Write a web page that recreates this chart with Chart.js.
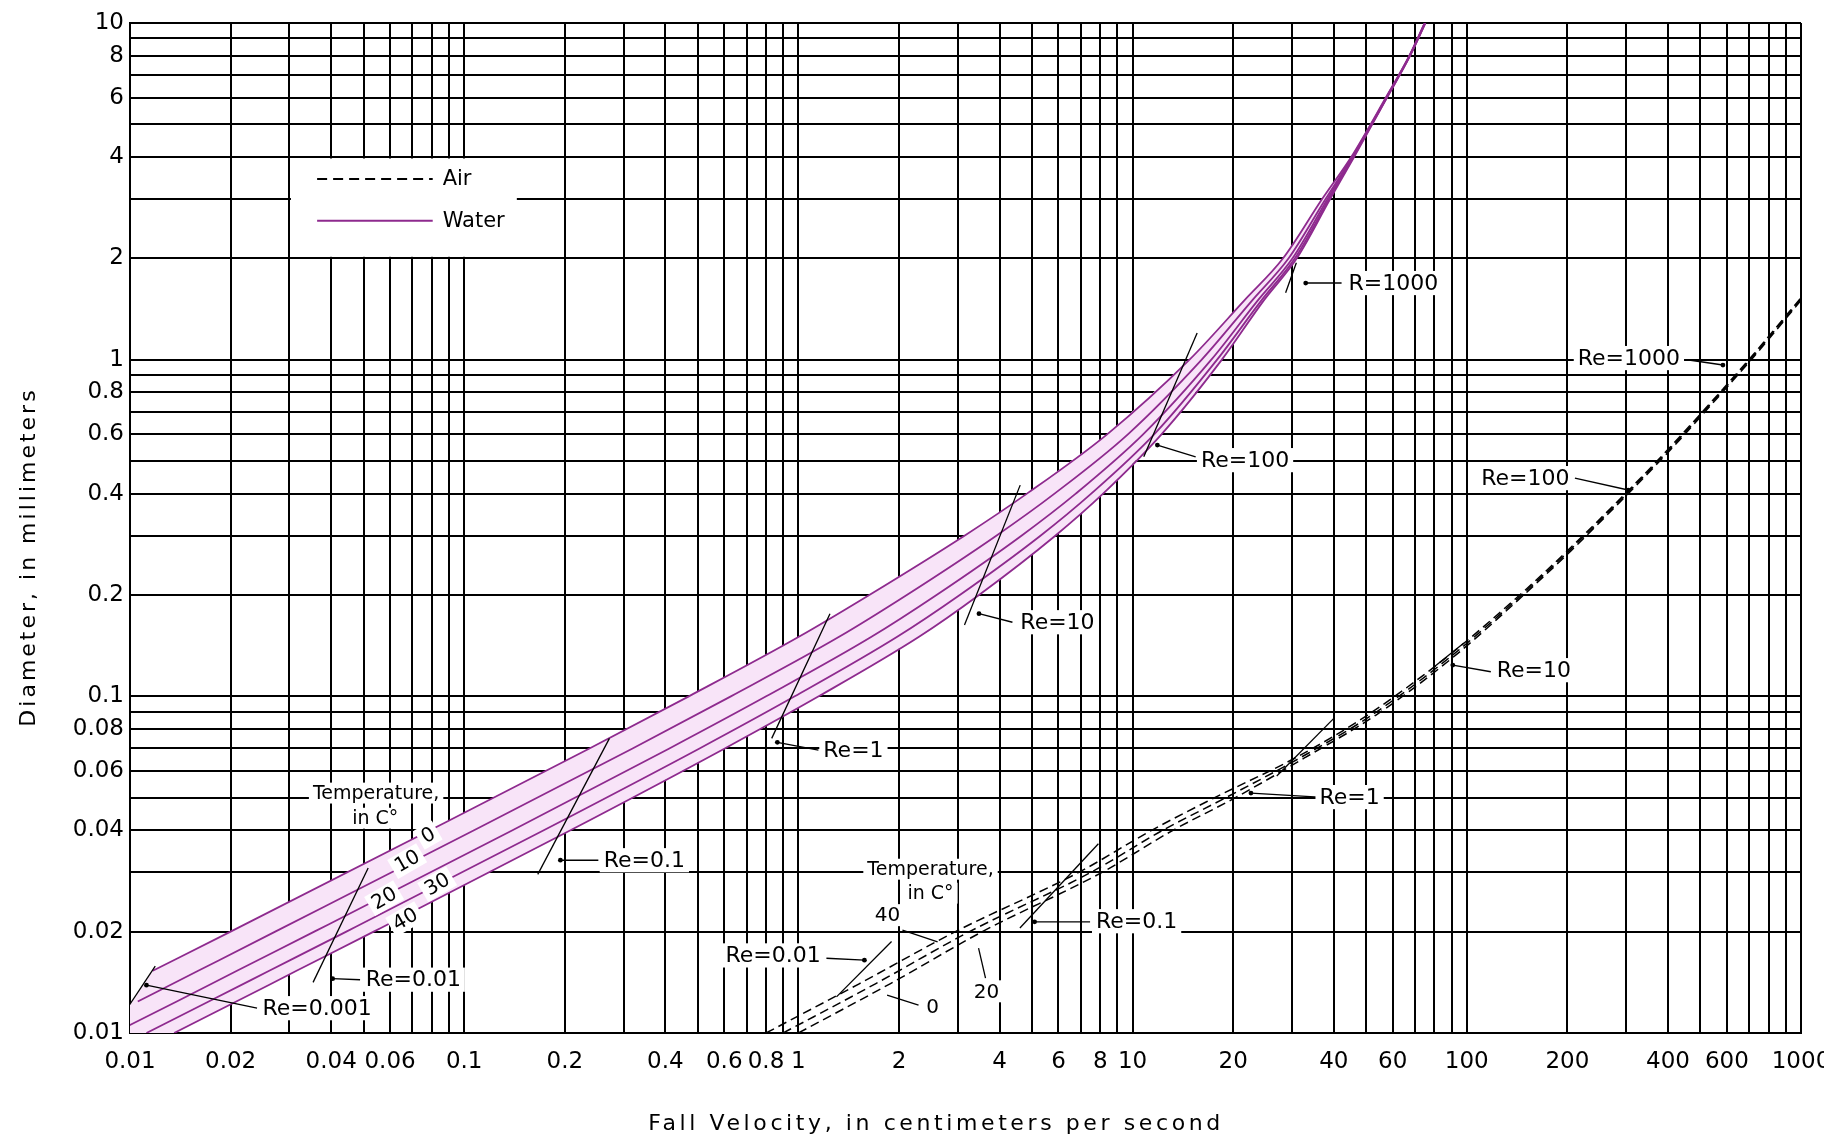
<!DOCTYPE html>
<html><head><meta charset="utf-8">
<script src="https://cdn.jsdelivr.net/npm/chart.js@4.4.1/dist/chart.umd.min.js"></script>
<style>html,body{margin:0;padding:0;background:#fff;}canvas{display:block;}</style>
</head><body>
<canvas id="c" width="1824" height="1141"></canvas>
<script>
// ---------- axes: gridlines (1..9 per decade) and labelled ticks ----------
const xGrid = [];
[0.01, 0.1, 1, 10, 100].forEach(d => { for (let m = 1; m < 10; m++) xGrid.push(+(d * m).toPrecision(2)); });
xGrid.push(1000);
const yGrid = [];
[0.01, 0.1, 1].forEach(d => { for (let m = 1; m < 10; m++) yGrid.push(+(d * m).toPrecision(2)); });
yGrid.push(10);

const xTickVals = [0.01, 0.02, 0.04, 0.06, 0.1, 0.2, 0.4, 0.6, 0.8, 1, 2, 4, 6, 8, 10, 20, 40, 60, 100, 200, 400, 600, 1000];
const xTickText = ['0.01','0.02','0.04','0.06','0.1','0.2','0.4','0.6','0.8','1','2','4','6','8','10','20','40','60','100','200','400','600','1000'];
const yTickVals = [0.01, 0.02, 0.04, 0.06, 0.08, 0.1, 0.2, 0.4, 0.6, 0.8, 1, 2, 4, 6, 8, 10];
const yTickText = ['0.01','0.02','0.04','0.06','0.08','0.1','0.2','0.4','0.6','0.8','1','2','4','6','8','10'];

const xTitle = 'Fall Velocity, in centimeters per second';
const yTitle = 'Diameter, in millimeters';

// ---------- WATER: fall velocity (cm/s) at each diameter (mm), per temperature ----------
const waterDiam = [0.01, 0.0124, 0.0153, 0.02, 0.04, 0.07, 0.1, 0.15, 0.2, 0.3, 0.4, 0.6, 1, 1.5, 2, 3, 4, 6, 8, 10];
const water0C  = [null, null, 0.0117, 0.0200, 0.0790, 0.237, 0.470, 1.00, 1.63, 3.14, 4.83, 8.39, 14.8, 21.6, 28.2, 36.9, 45.1, 57.2, 67.3, 74.8];
const water10C = [null, 0.01055, 0.0160, 0.0272, 0.107, 0.319, 0.628, 1.32, 2.11, 3.91, 5.84, 9.68, 16.1, 22.8, 29.3, 37.8, 45.4, 57.4, 67.4, 74.9];
const water20C = [0.00896, 0.0138, 0.0209, 0.0356, 0.1395, 0.411, 0.801, 1.65, 2.59, 4.65, 6.76, 10.75, 17.2, 23.7, 30.1, 38.3, 45.6, 57.5, 67.5, 75.0];
const water30C = [0.0112, 0.0172, 0.0261, 0.0444, 0.173, 0.506, 0.975, 1.97, 3.04, 5.30, 7.52, 11.6, 17.9, 24.3, 30.6, 38.7, 45.8, 57.6, 67.6, 75.1];
const water40C = [0.01355, 0.0208, 0.0315, 0.0536, 0.208, 0.602, 1.15, 2.29, 3.47, 5.87, 8.16, 12.2, 18.5, 24.7, 31.0, 39.0, 46.0, 57.7, 67.7, 75.2];
const bandCorner = [0.0086, 0.0098];   // closes the tinted band along the Re=0.001 line

// ---------- AIR: fall velocity (cm/s) at each diameter (mm), per temperature ----------
const airDiam = [0.01, 0.014, 0.02, 0.03, 0.04, 0.05, 0.066, 0.088, 0.133, 0.2, 0.27, 0.4, 0.54, 0.82, 1.0, 1.6];
const air40C = [0.80, 1.52, 2.95, 6.9, 11.4, 17.6, 31.0, 50.5, 89, 144, 199.5, 298, 399, 585, 698, 1040];
const air20C = [0.90, 1.70, 3.25, 7.5, 12.3, 19.0, 32.0, 52.0, 91, 146, 202, 301, 403, 590, 704, 1048];
const air0C  = [1.00, 1.88, 3.55, 8.1, 13.2, 20.3, 33.0, 53.5, 93, 148, 204.5, 304, 407, 595, 710, 1056];

// ---------- Reynolds-number marker segments (start v,d -> end v,d) ----------
const waterReV1 = [0.0099, 0.0353, 0.166, 0.832, 3.14, 10.8, 28.7];
const waterReD1 = [0.0120, 0.01414, 0.0296, 0.075, 0.163, 0.515, 1.58];
const waterReV2 = [0.0119, 0.0516, 0.272, 1.243, 4.61, 15.6, 30.9];
const waterReD2 = [0.0158, 0.0309, 0.075, 0.176, 0.424, 1.20, 1.94];
const airReV1 = [1.3, 4.6, 27, 79.6];
const airReD1 = [0.0128, 0.0205, 0.058, 0.122];
const airReV2 = [1.9, 7.9, 40, 98];
const airReD2 = [0.0187, 0.0365, 0.086, 0.144];

// ---------- callout texts, positions (v,d) and leader lines (tip v,d -> tail v,d) ----------
const noteText = ['Re=0.001','Re=0.01','Re=0.1','Re=1','Re=10','Re=100','R=1000','Re=0.01','Re=0.1','Re=1','Re=10','Re=100','Re=1000'];
const noteV = [0.0363, 0.0704, 0.346, 1.461, 5.96, 21.7, 60.3, 0.840, 10.28, 44.6, 158.7, 149.7, 305.5];
const noteD = [0.01185, 0.01440, 0.0326, 0.0692, 0.166, 0.503, 1.689, 0.0170, 0.02148, 0.0502, 0.1196, 0.4448, 1.011];
const leadTipV  = [0.0112, 0.0404, 0.194, 0.865, 3.47, 11.86, 32.96, 1.576, 5.09, 22.6, 90.8, 304, 584];
const leadTipD  = [0.01387, 0.0145, 0.0326, 0.073, 0.176, 0.5574, 1.689, 0.01646, 0.02139, 0.0516, 0.1238, 0.41, 0.9638];
const leadTailV = [0.024, 0.0488, 0.252, 1.148, 4.37, 15.44, 42.2, 1.213, 7.46, 36.1, 118, 210.6, 462];
const leadTailD = [0.01185, 0.0144, 0.0326, 0.0692, 0.166, 0.5146, 1.689, 0.01668, 0.02139, 0.0502, 0.1183, 0.4448, 0.9973];

// temperature annotations
const tempText = ['Temperature,', 'in C°', '0', '10', '20', '30', '40', 'Temperature,', 'in C°', '40', '20', '0'];
const tempV = [0.0545, 0.0542, 0.078, 0.0675, 0.0576, 0.083, 0.0666, 2.485, 2.485, 1.847, 3.655, 2.519];
const tempD = [0.0516, 0.04345, 0.0387, 0.0324, 0.02515, 0.02767, 0.02178, 0.03066, 0.02602, 0.02239, 0.0133, 0.01193];
const tempRot = [0, 0, -30, -30, -30, -30, -30, 0, 0, 0, 0, 0];
const tempLeadTipV  = [2.609, 3.46, 2.288];
const tempLeadTipD  = [0.01865, 0.01786, 0.0121];
const tempLeadTailV = [2.048, 3.63, 1.842];
const tempLeadTailD = [0.0202, 0.01455, 0.01295];

// legend (box corners and sample positions, in data units)
const legendBoxV = [0.03, 0.1437];
const legendBoxD = [2, 4];
const legendText = ['Air', 'Water'];
const legendLineV = [0.0363, 0.0805];
const legendD = [3.44, 2.586];
const legendTextV = 0.0862;

// ---------- colours ----------
const WATER = '#8e2a8e';
const BAND = '#f8e4f8';
const FONT = "'DejaVu Sans', sans-serif";

// ---------- build datasets ----------
const pts = (vs, ds) => vs.map((v, i) => (v == null ? null : { x: v, y: ds[i] })).filter(Boolean);
const line = (data, color, width, dash, extra) => Object.assign({
  data, showLine: true, borderColor: color, borderWidth: width, borderDash: dash || [],
  pointRadius: 0, fill: false, tension: 0, order: 0
}, extra || {});

const datasets = [];
const bandPoly = pts(water0C, waterDiam).concat(pts(water40C, waterDiam).reverse(), [{ x: bandCorner[0], y: bandCorner[1] }]);
datasets.push(line(bandPoly, 'rgba(0,0,0,0)', 0, [], { fill: 'shape', backgroundColor: BAND, order: 10 }));
[water0C, water10C, water20C, water30C, water40C].forEach(w =>
  datasets.push(line(pts(w, waterDiam), WATER, 1.8, [], { cubicInterpolationMode: 'monotone', order: 2 })));
[air40C, air20C, air0C].forEach(a =>
  datasets.push(line(pts(a, airDiam), '#000', 1.5, [9, 5], { cubicInterpolationMode: 'monotone', order: 2 })));
waterReV1.forEach((v, i) => datasets.push(line([{ x: v, y: waterReD1[i] }, { x: waterReV2[i], y: waterReD2[i] }], '#000', 1.3)));
airReV1.forEach((v, i) => datasets.push(line([{ x: v, y: airReD1[i] }, { x: airReV2[i], y: airReD2[i] }], '#000', 1.3)));
leadTipV.forEach((v, i) => datasets.push(line([{ x: v, y: leadTipD[i] }, { x: leadTailV[i], y: leadTailD[i] }], '#000', 1.4,
  [], { pointRadius: [2.4, 0], pointBackgroundColor: '#000', pointBorderWidth: 0 })));
tempLeadTipV.forEach((v, i) => datasets.push(line([{ x: v, y: tempLeadTipD[i] }, { x: tempLeadTailV[i], y: tempLeadTailD[i] }], '#000', 1.3)));

function tickText(value, vals, texts) {
  for (let i = 0; i < vals.length; i++) if (Math.abs(Math.log10(value) - Math.log10(vals[i])) < 1e-6) return texts[i];
  return '';
}

function label(ctx, text, px, py, size, rot, align) {
  ctx.save();
  ctx.translate(px, py);
  if (rot) ctx.rotate(rot * Math.PI / 180);
  ctx.font = size + 'px ' + FONT;
  ctx.textBaseline = 'middle';
  ctx.textAlign = align || 'center';
  const w = ctx.measureText(text).width;
  const x0 = align === 'left' ? 0 : -w / 2;
  ctx.fillStyle = '#fff';
  ctx.fillRect(x0 - 4, -size * 0.55, w + 8, size * 1.1);
  ctx.fillStyle = '#000';
  ctx.fillText(text, 0, 1);
  ctx.restore();
}

const notes = {
  id: 'notes',
  beforeDatasetsDraw(chart) {
    const { ctx, scales: { x, y } } = chart;
    const l = x.getPixelForValue(legendBoxV[0]) + 1.5, r = x.getPixelForValue(legendBoxV[1]);
    const t = y.getPixelForValue(legendBoxD[1]) + 1.5, b = y.getPixelForValue(legendBoxD[0]) - 1.5;
    ctx.save(); ctx.fillStyle = '#fff'; ctx.fillRect(l, t, r - l, b - t); ctx.restore();
  },
  afterDatasetsDraw(chart) {
    const { ctx, scales: { x, y } } = chart;
    // legend samples
    ctx.save();
    ctx.lineWidth = 2;
    ctx.strokeStyle = '#000'; ctx.setLineDash([10, 6]);
    ctx.beginPath();
    ctx.moveTo(x.getPixelForValue(legendLineV[0]), y.getPixelForValue(legendD[0]));
    ctx.lineTo(x.getPixelForValue(legendLineV[1]), y.getPixelForValue(legendD[0]));
    ctx.stroke();
    ctx.setLineDash([]); ctx.strokeStyle = WATER;
    ctx.beginPath();
    ctx.moveTo(x.getPixelForValue(legendLineV[0]), y.getPixelForValue(legendD[1]));
    ctx.lineTo(x.getPixelForValue(legendLineV[1]), y.getPixelForValue(legendD[1]));
    ctx.stroke();
    ctx.restore();
    legendText.forEach((t, i) => label(ctx, t, x.getPixelForValue(legendTextV), y.getPixelForValue(legendD[i]), 21, 0, 'left'));
    // callouts
    noteText.forEach((t, i) => label(ctx, t, x.getPixelForValue(noteV[i]), y.getPixelForValue(noteD[i]), 22, 0));
    tempText.forEach((t, i) => label(ctx, t, x.getPixelForValue(tempV[i]), y.getPixelForValue(tempD[i]), t.length > 3 ? 19 : 20, tempRot[i]));
  },
  afterDraw(chart) {
    const { ctx } = chart;
    ctx.save();
    ctx.fillStyle = '#000';
    ctx.font = '22px ' + FONT;
    ctx.textAlign = 'center'; ctx.textBaseline = 'middle';
    ctx.letterSpacing = '3.6px';
    ctx.fillText(xTitle, 936, 1124);
    ctx.translate(29, 557); ctx.rotate(-Math.PI / 2);
    ctx.letterSpacing = '3px';
    ctx.fillText(yTitle, 0, 0);
    ctx.restore();
  }
};

new Chart(document.getElementById('c'), {
  type: 'scatter',
  data: { datasets },
  plugins: [notes],
  options: {
    responsive: false, animation: false, devicePixelRatio: 1,
    layout: { padding: { left: 0, right: 23, top: 23, bottom: 0 } },
    plugins: { legend: { display: false }, tooltip: { enabled: false } },
    events: [],
    scales: {
      x: {
        type: 'logarithmic', min: 0.01, max: 1000, position: 'bottom',
        afterBuildTicks: s => { s.ticks = xGrid.map(v => ({ value: v })); },
        afterFit: s => { s.height = 108; s.paddingLeft = 0; s.paddingRight = 0; },
        ticks: {
          autoSkip: false, maxRotation: 0, minRotation: 0, padding: 15, color: '#000',
          font: { family: FONT, size: 23 },
          callback: (v) => tickText(v, xTickVals, xTickText)
        },
        grid: { color: '#000', lineWidth: 2, drawTicks: false },
        border: { color: '#000', width: 2 }
      },
      y: {
        type: 'logarithmic', min: 0.01, max: 10, position: 'left',
        afterBuildTicks: s => { s.ticks = yGrid.map(v => ({ value: v })); },
        afterFit: s => { s.width = 130; s.paddingTop = 0; s.paddingBottom = 0; },
        ticks: {
          autoSkip: false, padding: 6, color: '#000',
          font: { family: FONT, size: 23 },
          callback: (v) => tickText(v, yTickVals, yTickText)
        },
        grid: { color: '#000', lineWidth: 2, drawTicks: false },
        border: { color: '#000', width: 2 }
      }
    }
  }
});
</script>
</body></html>
